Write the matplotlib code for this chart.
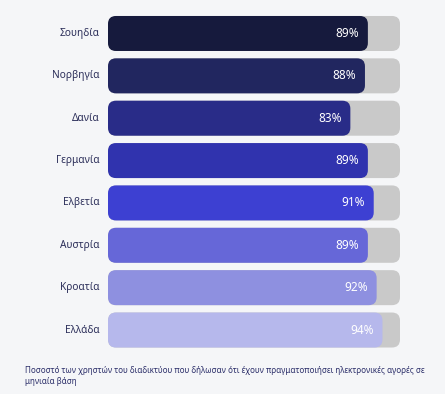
import matplotlib

matplotlib.use("Agg")
import matplotlib.pyplot as plt
from matplotlib.patches import FancyBboxPatch

countries = ["Σουηδία", "Νορβηγία", "Δανία", "Γερμανία", "Ελβετία", "Αυστρία", "Κροατία", "Ελλάδα"]
values = [89, 88, 83, 89, 91, 89, 92, 94]
colors = ["#161a3d", "#21265f", "#292c88", "#3033ae", "#3d40d2", "#6667d8", "#8e90e0", "#b6b8ec"]
note = ("Ποσοστό των χρηστών του διαδικτύου που δήλωσαν ότι έχουν πραγματοποιήσει ηλεκτρονικές αγορές σε\n"
        "μηνιαία βάση")

plt.rcParams["font.family"] = ["Noto Sans", "DejaVu Sans"]
fig = plt.figure(figsize=(4.45, 3.94), dpi=100, facecolor="#f5f6f8")
ax = fig.add_axes([108 / 445, 1 - 351.2 / 394, 292 / 445, 338.9 / 394])
ax.set_xlim(0, 100); ax.set_ylim(7.5, -0.5); ax.axis("off")

px_x, px_y = 292 / 100, 338.9 / 8
aspect = px_x / px_y
h = 35 / px_y
r = 8 / px_x
for i, (name, v, c) in enumerate(zip(countries, values, colors)):
    for width, col in ((100, "#c9c9c9"), (v, c)):
        ax.add_patch(FancyBboxPatch((0, i - h / 2), width, h, boxstyle=f"round,pad=0,rounding_size={r}",
                                    mutation_aspect=aspect, fc=col, ec="none"))
    ax.text(v - 3, i, f"{v}%", ha="right", va="center", color="white", fontsize=8.5)
    ax.text(-2.8, i, name, ha="right", va="center", color="#2c2f5a", fontsize=7.3, clip_on=False)

fig.text(25 / 445, 1 - 376 / 394, note, ha="left", va="center", color="#2c2f6a", fontsize=5.8, linespacing=1.4)
fig.savefig("out.png", dpi=100, facecolor=fig.get_facecolor())
